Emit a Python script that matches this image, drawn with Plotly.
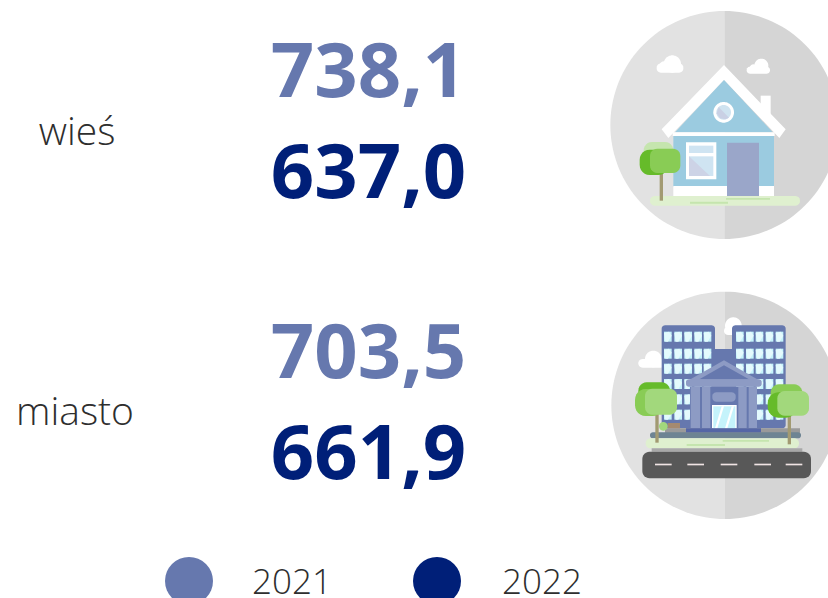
import numpy as np
import plotly.graph_objects as go

# ---- data ----
categories = ["wieś", "miasto"]
values_2021 = [738.1, 703.5]
values_2022 = [637.0, 661.9]
legend_years = ["2021", "2022"]

# ---- style ----
COLOR_2021 = "#6678AE"
COLOR_2022 = "#001F78"
TEXT = "#2E2E2E"
FONT_LABEL = "Open Sans"
FONT_VALUE = "Noto Sans"

# layout slots, in window pixels
CAT_X = [77, 75]
CAT_Y = [135, 415]
VAL_X = 368.5
Y_2021 = [78, 359]
Y_2022 = [179, 460]
LEG_MARK_X = [189, 437]
LEG_TEXT_X = [292, 542]
LEG_Y = 581
LEG_TEXT_Y = 585

shapes = []


def fmt(v):
    return f"{v:.1f}".replace(".", ",")


def add_path(d, color):
    shapes.append(dict(type="path", path=d, fillcolor=color, line_width=0, layer="below",
                       xref="x", yref="y"))


class Icon:
    """Drawing helper: coordinates are given at 3x scale, relative to an origin."""

    def __init__(self, ox, oy):
        self.ox, self.oy = ox, oy

    def p(self, x, y):
        return f"{self.ox + x / 3:.2f},{self.oy + y / 3:.2f}"

    def poly(self, pts, color):
        add_path("M" + " L".join(self.p(*q) for q in pts) + " Z", color)

    def rect(self, x0, y0, x1, y1, color):
        self.poly([(x0, y0), (x1, y0), (x1, y1), (x0, y1)], color)

    def rrect(self, x0, y0, x1, y1, r, color):
        pts = []
        for cx, cy, a0 in [(x1 - r, y0 + r, -90), (x1 - r, y1 - r, 0), (x0 + r, y1 - r, 90), (x0 + r, y0 + r, 180)]:
            for a in np.radians(np.linspace(a0, a0 + 90, 7)):
                pts.append((cx + r * np.cos(a), cy + r * np.sin(a)))
        self.poly(pts, color)

    def circle(self, cx, cy, r, color, a0=0, a1=360):
        pts = [(cx + r * np.cos(a), cy + r * np.sin(a)) for a in np.radians(np.linspace(a0, a1, 73))]
        self.poly(pts, color)


def backdrop(ic, cx, cy, r):
    ic.circle(cx, cy, r, "#E2E2E2", 90, 270)
    ic.circle(cx, cy, r, "#D5D5D5", -90, 90)


GREEN_D, GREEN_M, GREEN_L, GREEN_P = "#66BB2A", "#89CC55", "#A2D87C", "#C5E5AE"
GRASS = "#DFF0CF"
TRUNK = "#A29A72"
BLD, BLD_L = "#6678AE", "#8D9BC4"
GLASS = "#C5F3FB"

# ---- house ----
h = Icon(600, 0)
backdrop(h, 373, 375, 342)
h.rrect(170, 190, 250, 218, 13, "white")
h.circle(217, 192, 26, "white")
h.circle(192, 198, 14, "white")
h.rrect(440, 200, 510, 221, 10, "white")
h.circle(484, 197, 21, "white")
h.circle(460, 204, 11, "white")
h.rect(482, 287, 512, 350, "white")
h.poly([(372, 195), (557, 388), (538, 414), (372, 240), (205, 414), (185, 388)], "white")
h.poly([(372, 240), (518, 397), (225, 397)], "#9BCBE0")
h.rect(218, 397, 524, 408, "white")
h.rect(220, 408, 522, 560, "#9BCBE0")
h.rect(220, 558, 522, 588, "white")
h.circle(371, 337, 31, "white")
h.circle(371, 337, 22, "#CFE3F0")
h.poly([(356, 321), (387, 353), (376, 358), (360, 355), (350, 340)], "#C9D0E4")
h.rect(258, 427, 349, 538, "white")
h.rect(267, 437, 340, 459, "#CFE4F2")
h.rect(267, 469, 340, 528, "#CFE4F2")
h.poly([(267, 469), (330, 528), (267, 528)], "#CDD3E6")
h.rect(381, 428, 477, 588, "#9AA6C9")
h.rrect(150, 588, 600, 617, 14, GRASS)
h.rect(378, 594, 510, 599, GREEN_P)
h.rect(270, 605, 384, 611, GREEN_P)
h.rrect(131, 426, 220, 490, 25, GREEN_P)
h.rect(179, 515, 189, 602, TRUNK)
h.rrect(119, 449, 205, 525, 30, GREEN_D)
h.rrect(150, 446, 241, 519, 22, GREEN_M)

# ---- city ----
c = Icon(600, 285)
backdrop(c, 375, 361, 341)
c.rrect(115, 222, 195, 248, 13, "white")
c.circle(160, 222, 25, "white")
c.rrect(372, 125, 432, 150, 12, "white")
c.circle(400, 122, 25, "white")
c.rrect(185, 121, 345, 430, 10, BLD)
c.rrect(396, 121, 557, 430, 10, BLD)
c.rect(345, 192, 396, 430, BLD)
rows_y = [140, 191, 236, 282, 328, 374]
for xs, w in [([192, 223, 253, 283, 311], 23), ([408, 438, 467, 497, 527], 23)]:
    for y in rows_y:
        for x in xs:
            c.rect(x, y, x + w, y + 30, GLASS)
            c.poly([(x, y + 4), (x + 4, y + 30), (x + 12, y + 30), (x + w, y + 12), (x + w - 8, y)], "#E4FAFD")
c.rect(195, 430, 600, 446, "#9A9A9A")
c.rrect(150, 442, 603, 460, 8, "#6E8493")
# temple
c.rect(270, 305, 470, 430, BLD)
c.poly([(372, 226), (485, 290), (258, 290)], BLD_L)
c.poly([(372, 241), (447, 283), (298, 283)], BLD)
c.rrect(258, 283, 485, 305, 8, BLD_L)
for x0, x1 in [(272, 300), (306, 331), (415, 440), (446, 471)]:
    c.rect(x0, 305, x1, 430, BLD_L)
c.rrect(337, 322, 407, 350, 12, BLD_L)
c.rect(336, 360, 410, 430, "white")
c.rect(340, 364, 406, 430, GLASS)
c.poly([(345, 430), (365, 364), (372, 364), (352, 430)], "white")
c.poly([(375, 430), (395, 364), (402, 364), (382, 430)], "white")
c.rect(258, 430, 483, 442, "#5566A6")
c.rrect(137, 460, 597, 490, 14, GRASS)
c.rect(368, 465, 507, 470, GREEN_P)
c.rect(260, 477, 375, 483, GREEN_P)
c.rect(155, 490, 607, 500, "#A8A8A8")
c.rrect(127, 500, 633, 580, 22, "#585858")
for x0 in [165, 262, 362, 463, 557]:
    c.rect(x0, 536, x0 + 50, 541, "#F0E4E4")
# bench, bush, trees
c.rect(203, 414, 240, 430, "#A58A70")
c.circle(190, 424, 13, GREEN_L)
c.rect(166, 385, 176, 473, TRUNK)
c.rrect(115, 292, 210, 350, 25, GREEN_D)
c.rrect(105, 312, 190, 393, 32, GREEN_M)
c.rrect(135, 311, 231, 389, 22, GREEN_L)
c.rect(563, 390, 573, 478, TRUNK)
c.rrect(512, 298, 607, 360, 25, GREEN_M)
c.rrect(503, 322, 590, 398, 32, GREEN_D)
c.rrect(532, 318, 627, 392, 22, GREEN_L)

# ---- figure ----
fig = go.Figure()

fig.add_trace(go.Scatter(
    x=CAT_X, y=CAT_Y, text=categories, mode="text", showlegend=False,
    textposition="middle center", cliponaxis=False,
    textfont=dict(family=FONT_LABEL, size=39, color=TEXT, weight=300)))

for vals, ys, color, wt in [(values_2021, Y_2021, COLOR_2021, 700), (values_2022, Y_2022, COLOR_2022, 700)]:
    fig.add_trace(go.Scatter(
        x=[VAL_X] * len(vals), y=ys, text=[fmt(v) for v in vals], mode="text", showlegend=False,
        textposition="middle center", cliponaxis=False,
        textfont=dict(family=FONT_VALUE, size=76, color=color, weight=wt)))

fig.add_trace(go.Scatter(
    x=LEG_MARK_X, y=[LEG_Y] * 2, mode="markers", showlegend=False, cliponaxis=False,
    marker=dict(size=48, color=[COLOR_2021, COLOR_2022], line_width=0)))
fig.add_trace(go.Scatter(
    x=LEG_TEXT_X, y=[LEG_TEXT_Y] * 2, text=legend_years, mode="text", showlegend=False,
    textposition="middle center", cliponaxis=False,
    textfont=dict(family=FONT_LABEL, size=35, color=TEXT, weight=300)))

fig.update_layout(
    width=828, height=598, margin=dict(l=0, r=0, t=0, b=0, pad=0),
    paper_bgcolor="white", plot_bgcolor="white", shapes=shapes,
    xaxis=dict(range=[0, 828], visible=False, fixedrange=True),
    yaxis=dict(range=[598, 0], visible=False, fixedrange=True),
)

fig.write_html("out.html", config=dict(displayModeBar=False),
               post_script="document.body.style.margin='0';document.body.style.overflow='hidden';")
